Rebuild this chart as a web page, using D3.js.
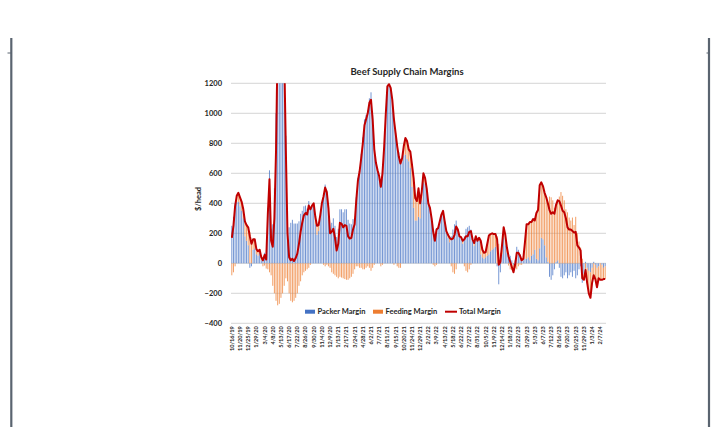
<!DOCTYPE html>
<html><head><meta charset="utf-8">
<script src="https://cdn.jsdelivr.net/npm/d3@7"></script>
<style>
body{margin:0;background:#fff}
svg text{font-family:Lato,"Open Sans",sans-serif;fill:#262626}
</style></head>
<body><svg width="714" height="427"></svg>
<script>
// weekly margins, $/head, 10/16/19 .. 2/28/24
const total = [
170,250,380,450,470,440,410,360,280,255,
240,180,130,160,160,95,80,90,40,20,
55,25,330,560,150,110,300,750,1500,2000,
2200,1900,1400,750,200,40,20,30,15,35,
65,130,210,270,320,335,325,385,360,385,
400,310,250,255,320,400,445,505,475,370,
200,210,230,170,85,130,270,265,240,255,
250,180,165,170,225,260,420,550,610,700,
800,920,960,1000,1070,1090,960,760,670,620,
580,510,600,770,990,1180,1195,1170,1090,960,
870,780,710,665,700,780,835,815,760,745,
660,570,435,415,500,400,480,600,570,500,
400,370,300,210,150,225,235,280,325,350,
280,215,190,170,160,165,190,245,225,180,
175,150,160,180,180,210,215,160,135,180,
150,170,150,90,70,75,130,185,195,200,
195,195,160,-10,10,120,240,190,105,45,
10,-25,-60,-10,70,70,50,20,30,140,
260,260,275,275,295,285,335,355,520,540,
515,470,440,400,355,330,340,330,390,420,
415,385,350,340,300,240,225,225,215,205,
210,120,105,85,-100,-110,-45,-130,-200,-230,
-130,-80,-105,-160,-100,-110,-110,-105,-105]

const packer = [
250,310,400,410,410,380,350,300,180,150,
120,-30,-20,90,100,60,50,70,20,40,
70,60,370,620,230,260,500,1000,1780,2270,
2430,2100,1550,850,320,240,270,290,265,265,
265,280,330,350,380,385,365,415,370,375,
380,260,190,215,300,400,455,525,485,390,
230,270,300,250,175,230,360,360,340,360,
360,290,265,260,295,300,440,570,640,730,
840,960,990,1020,1100,1140,990,770,670,610,
570,530,610,770,990,1170,1185,1170,1090,970,
870,800,740,695,680,720,725,695,680,635,
510,370,285,285,310,300,420,540,530,480,
390,370,300,220,170,235,235,280,315,350,
280,215,170,140,180,225,260,285,225,180,
165,130,180,230,240,250,225,150,115,170,
150,150,60,40,30,40,50,60,80,90,
100,110,-20,-140,-60,60,170,120,70,60,
50,20,-10,20,110,90,60,30,20,30,
30,40,20,50,60,90,30,20,100,170,
160,120,40,10,-90,-110,-80,-40,10,20,
-30,-90,-100,-80,-60,-100,-80,-60,-90,-50,
-100,-80,-40,-20,-130,-70,10,-30,-50,-60,
-30,10,-10,-30,-20,0,-10,-30,-20]

const feeding = [
-80,-60,-20,40,60,60,60,60,100,105,
120,210,150,70,60,35,30,20,20,-20,
-15,-35,-40,-60,-80,-150,-200,-250,-280,-270,
-230,-200,-150,-100,-120,-200,-250,-260,-250,-230,
-200,-150,-120,-80,-60,-50,-40,-30,-10,10,
20,50,60,40,20,0,-10,-20,-10,-20,
-30,-60,-70,-80,-90,-100,-90,-95,-100,-105,
-110,-110,-100,-90,-70,-40,-20,-20,-30,-30,
-40,-40,-30,-20,-30,-50,-30,-10,0,10,
10,-20,-10,0,0,10,10,0,0,-10,
0,-20,-30,-30,20,60,110,120,80,110,
150,200,150,130,190,100,60,60,40,20,
10,0,0,-10,-20,-10,0,0,10,0,
0,0,20,30,-20,-60,-70,-40,0,0,
10,20,-20,-50,-60,-40,-10,10,20,10,
0,20,90,50,40,35,80,125,115,110,
95,85,180,130,70,60,70,70,35,-15,
-40,-45,-50,-30,-40,-20,-10,-10,10,110,
230,220,255,225,235,195,305,335,420,370,
355,350,400,390,445,440,420,370,380,400,
445,475,450,420,360,340,305,285,305,255,
310,200,145,105,30,-40,-55,-100,-150,-170,
-100,-90,-95,-130,-80,-110,-100,-75,-85]

const tickLabels = ["10/16/19","11/20/19","12/25/19","1/29/20","3/4/20","4/8/20","5/13/20","6/17/20",
"7/22/20","8/26/20","9/30/20","11/4/20","12/9/20","1/13/21","2/17/21","3/24/21","4/28/21","6/2/21",
"7/7/21","8/11/21","9/15/21","10/20/21","11/24/21","12/29/21","2/2/22","3/9/22","4/13/22","5/18/22",
"6/22/22","7/27/22","8/31/22","10/5/22","11/9/22","12/14/22","1/18/23","2/22/23","3/29/23","5/3/23",
"6/7/23","7/12/23","8/16/23","9/20/23","10/25/23","11/29/23","1/3/24","2/7/24"]
const yTicks = [-400,-200,0,200,400,600,800,1000,1200]
const seriesNames = ["Packer Margin","Feeding Margin","Total Margin"]
const colores = ["#4472C4","#ED7D31","#C00000"]

const svg = d3.select("svg")
const pLeft = 231, pRight = 606, pTop = 83.3, pBottom = 323.3
const n = total.length

// page frame
const frame = "#5a6470"
svg.append("line").attr("x1",11.3).attr("x2",11.3).attr("y1",38).attr("y2",427).style("stroke",frame).style("stroke-width",2.2)
svg.append("line").attr("x1",709).attr("x2",709).attr("y1",38).attr("y2",427).style("stroke",frame).style("stroke-width",2.2)
svg.append("line").attr("x1",7.5).attr("x2",11).attr("y1",53).attr("y2",53).style("stroke",frame).style("stroke-width",1)
svg.append("line").attr("x1",706.5).attr("x2",709).attr("y1",53).attr("y2",53).style("stroke",frame).style("stroke-width",1)

const xScale = d3.scaleBand().domain(d3.range(n)).range([pLeft,pRight]).paddingInner(0.4).paddingOuter(0.2)
const yScale = d3.scaleLinear().domain([-400,1200]).range([pBottom,pTop])

// grid
svg.append("g").selectAll("line").data(yTicks).enter().append("line")
	.attr("x1",pLeft).attr("x2",pRight)
	.attr("y1",d => yScale(d)).attr("y2",d => yScale(d))
	.style("stroke","#d0d0d0").style("stroke-width",0.9)

const yAxis = d3.axisLeft(yScale).tickValues(yTicks).tickFormat(d3.format("d")).tickSize(0).tickPadding(0)
const yG = svg.append("g").attr("transform","translate(222,0)").call(yAxis)
yG.select(".domain").remove()
yG.selectAll("text").style("font-size","7.5px").style("font-weight","bold").attr("fill","#262626")

const xAxis = d3.axisBottom(xScale).tickValues(d3.range(0,n,5)).tickFormat(i => tickLabels[i/5]).tickSize(0)
const xG = svg.append("g").attr("transform",`translate(0,${pBottom})`).call(xAxis)
xG.select(".domain").remove()
xG.selectAll("text")
	.attr("transform","rotate(-90)").attr("x",-3).attr("y",0).attr("dy","0.35em")
	.style("text-anchor","end").style("font-size","5.6px").style("font-weight","bold").attr("fill","#262626")

svg.append("clipPath").attr("id","plot").append("rect")
	.attr("x",pLeft).attr("y",pTop).attr("width",pRight-pLeft).attr("height",pBottom-pTop)

const rows = d3.range(n).map(i => ({packer: packer[i], feeding: feeding[i]}))
const stacked = d3.stack().keys(["packer","feeding"]).offset(d3.stackOffsetDiverging)(rows)

const plot = svg.append("g").attr("clip-path","url(#plot)")
stacked.forEach((s,k) => {
	plot.append("g").selectAll("rect")
		.data(s)
		.enter().append("rect")
		.attr("x",(d,i) => xScale(i))
		.attr("width",xScale.bandwidth())
		.attr("y",d => yScale(Math.max(d[0],d[1])))
		.attr("height",d => Math.abs(yScale(d[0]) - yScale(d[1])))
		.style("fill",colores[k])
		.style("opacity",0.75)
})

const line = d3.line().x((d,i) => xScale(i) + xScale.bandwidth()/2).y(d => yScale(d))
plot.append("path").datum(total).attr("d",line)
	.style("fill","none").style("stroke",colores[2]).style("stroke-width",2).style("stroke-linejoin","round")

svg.append("text").attr("x",407).attr("y",75).attr("text-anchor","middle")
	.style("font-size","9.5px").style("font-weight","bold").text("Beef Supply Chain Margins")

svg.append("text").attr("transform","translate(201,199) rotate(-90)").attr("text-anchor","middle")
	.style("font-size","7.5px").style("font-weight","bold").text("$/head")

// legend
const legX = [305,373,445]
const leg = svg.append("g").selectAll("g").data(seriesNames).enter().append("g")
	.attr("transform",(d,i) => `translate(${legX[i]},311.7)`)
leg.filter((d,i) => i < 2).append("rect").attr("x",0).attr("y",-2).attr("width",10).attr("height",4)
	.style("fill",(d,i) => colores[i])
leg.filter((d,i) => i == 2).append("line").attr("x1",0).attr("x2",12).attr("y1",0).attr("y2",0)
	.style("stroke",colores[2]).style("stroke-width",2)
leg.append("text").attr("x",(d,i) => i == 2 ? 14 : 12.5).attr("dy","0.35em")
	.style("font-size","7.5px").style("font-weight","bold").text(d => d)
</script>
</body></html>
